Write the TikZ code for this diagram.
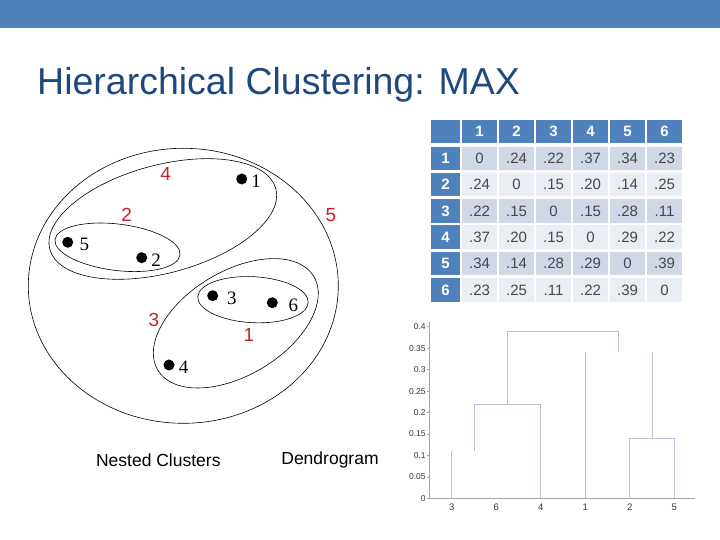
\documentclass[tikz,border=0pt]{standalone}
\usepackage{fontspec}
\setmainfont{Liberation Sans}
\newfontfamily\pointfont{Liberation Serif}
\usetikzlibrary{positioning}
\definecolor{bandblue}{RGB}{79,129,189}
\definecolor{titleblue}{RGB}{31,73,125}
\definecolor{rowdark}{RGB}{208,216,232}
\definecolor{rowlight}{RGB}{233,237,244}
\definecolor{mergered}{RGB}{200,32,40}
\definecolor{dendroline}{RGB}{192,192,212}

\begin{document}
\begin{tikzpicture}[x=1pt,y=1pt,
  dot/.style={circle,fill=black,inner sep=0pt,minimum size=11pt},
  ptlabel/.style={font=\pointfont\fontsize{19}{19}\selectfont,inner sep=0pt,
    text height=12.8pt,text depth=0pt,yshift=-2pt},
  order/.style={text=mergered,font=\fontsize{19}{19}\selectfont,inner sep=0pt,
    text height=13.6pt,text depth=0pt},
  clusterline/.style={draw=black,line width=0.6pt},
  headcell/.style={fill=bandblue,text=white,font=\bfseries\fontsize{15}{15}\selectfont,
    minimum width=34.5pt,minimum height=22.7pt,inner sep=0pt,text height=10.8pt,text depth=0pt},
  rowhead/.style={headcell,minimum width=29pt,minimum height=23.5pt},
  cell/.style={text=black!72,font=\fontsize{15}{15}\selectfont,
    minimum width=34.5pt,minimum height=23.5pt,inner sep=0pt,text height=10.8pt,text depth=0pt},
  dendro/.style={draw=dendroline,line width=0.8pt},
  axisline/.style={draw=black!35,line width=0.6pt},
  ticklabel/.style={font=\fontsize{8.5}{8.5}\selectfont,text=black!80,inner sep=0pt,
    text height=6.1pt,text depth=0pt},
  caption/.style={font=\fontsize{17.5}{17.5}\selectfont,inner sep=0pt},
  ]
  \useasboundingbox (0,0) rectangle (720,540);
  \fill[bandblue] (0,512) rectangle (720,540);
  \node[anchor=base west,text=titleblue,font=\fontsize{37.5}{37.5}\selectfont,inner sep=0pt]
    (title) at (37,445) {Hierarchical Clustering: MAX};

  % nested clusters
  \draw[clusterline] (183.3,254.2) ellipse [x radius=155, y radius=137.5];
  \draw[clusterline,rotate around={15:(162.8,321)}] (162.8,321) ellipse [x radius=117, y radius=54];
  \draw[clusterline,rotate around={-7:(117.5,292.7)}] (117.5,292.7) ellipse [x radius=63, y radius=23.2];
  \draw[clusterline,rotate around={31:(235.8,216.7)}] (235.8,216.7) ellipse [x radius=91, y radius=52];
  \draw[clusterline,rotate around={-3:(253,240.3)}] (253,240.3) ellipse [x radius=55.3, y radius=23];

  \node[dot] (p1) at (241.7,361) {};
  \node[dot] (p2) at (141.7,282.3) {};
  \node[dot] (p3) at (212.7,244.3) {};
  \node[dot] (p4) at (169,175) {};
  \node[dot] (p5) at (67.7,297.7) {};
  \node[dot] (p6) at (272.3,237.3) {};
  \node[ptlabel,right=3.8pt of p1] (n1) {1};
  \node[ptlabel,right=3.8pt of p2] (n2) {2};
  \node[ptlabel,right=8.5pt of p3] (n3) {3};
  \node[ptlabel,right=4pt of p4] (n4) {4};
  \node[ptlabel,right=6pt of p5] (n5) {5};
  \node[ptlabel,right=10.5pt of p6] (n6) {6};

  \node[order] (o1) at (249,205) {1};
  \node[order] (o2) at (126.7,325) {2};
  \node[order] (o3) at (154,220) {3};
  \node[order] (o4) at (165.7,366) {4};
  \node[order] (o5) at (331,325.7) {5};

  \node[caption] (nested) at (158.3,80) {Nested Clusters};
  \node[caption] (dendrogram) at (330,80) {Dendrogram};

  % distance matrix
  \node[headcell,minimum width=29pt] (h-0) at (445.5,408.7) {};
  \foreach \c in {1,...,6}
    \node[headcell] (h-\c) at ({479.5+37*(\c-1)},408.7) {\c};
  \foreach \r in {1,...,6}
    \node[rowhead] (r-\r) at (445.5,{381.7-26.3*(\r-1)}) {\r};
  \foreach \v [count=\c] in {0,.24,.22,.37,.34,.23}
    \node[cell,fill=rowdark] (c-1-\c) at ({479.5+37*(\c-1)},381.7) {\v};
  \foreach \v [count=\c] in {.24,0,.15,.20,.14,.25}
    \node[cell,fill=rowlight] (c-2-\c) at ({479.5+37*(\c-1)},355.4) {\v};
  \foreach \v [count=\c] in {.22,.15,0,.15,.28,.11}
    \node[cell,fill=rowdark] (c-3-\c) at ({479.5+37*(\c-1)},329.1) {\v};
  \foreach \v [count=\c] in {.37,.20,.15,0,.29,.22}
    \node[cell,fill=rowlight] (c-4-\c) at ({479.5+37*(\c-1)},302.8) {\v};
  \foreach \v [count=\c] in {.34,.14,.28,.29,0,.39}
    \node[cell,fill=rowdark] (c-5-\c) at ({479.5+37*(\c-1)},276.5) {\v};
  \foreach \v [count=\c] in {.23,.25,.11,.22,.39,0}
    \node[cell,fill=rowlight] (c-6-\c) at ({479.5+37*(\c-1)},250.2) {\v};

  % dendrogram
  \begin{scope}[shift={(429.3,41.7)},y=429pt]
    \draw[axisline] (0,0.41) -- (0,0) -- (266,0);
    \foreach \t [count=\k] in {0,0.05,0.1,0.15,0.2,0.25,0.3,0.35,0.4}{
      \draw[axisline] (-2.5,\t) -- (0,\t);
      \node[ticklabel,anchor=east] (tick-\k) at (-3.5,\t) {\t};
    }
    \foreach \leaf/\x in {3/22.4,6/66.9,4/111.4,1/155.9,2/200.4,5/244.9}{
      \coordinate (leaf\leaf) at (\x,0);
      \node[ticklabel,font=\fontsize{9.5}{9.5}\selectfont,text height=6.8pt,yshift=-8.4pt]
        (lbl\leaf) at (leaf\leaf) {\leaf};
    }
    \draw[dendro] (leaf3) -- (22.4,0.11);
    \draw[dendro] (44.6,0.11) -- (44.6,0.22) -- (111.4,0.22) -- (leaf4);
    \draw[dendro] (78,0.22) -- (78,0.39) -- (189.3,0.39) -- (189.3,0.34);
    \draw[dendro] (leaf1) -- (155.9,0.34);
    \draw[dendro] (222.6,0.34) -- (222.6,0.14);
    \draw[dendro] (leaf2) -- (200.4,0.14) -- (244.9,0.14) -- (leaf5);
  \end{scope}
\end{tikzpicture}
\end{document}
